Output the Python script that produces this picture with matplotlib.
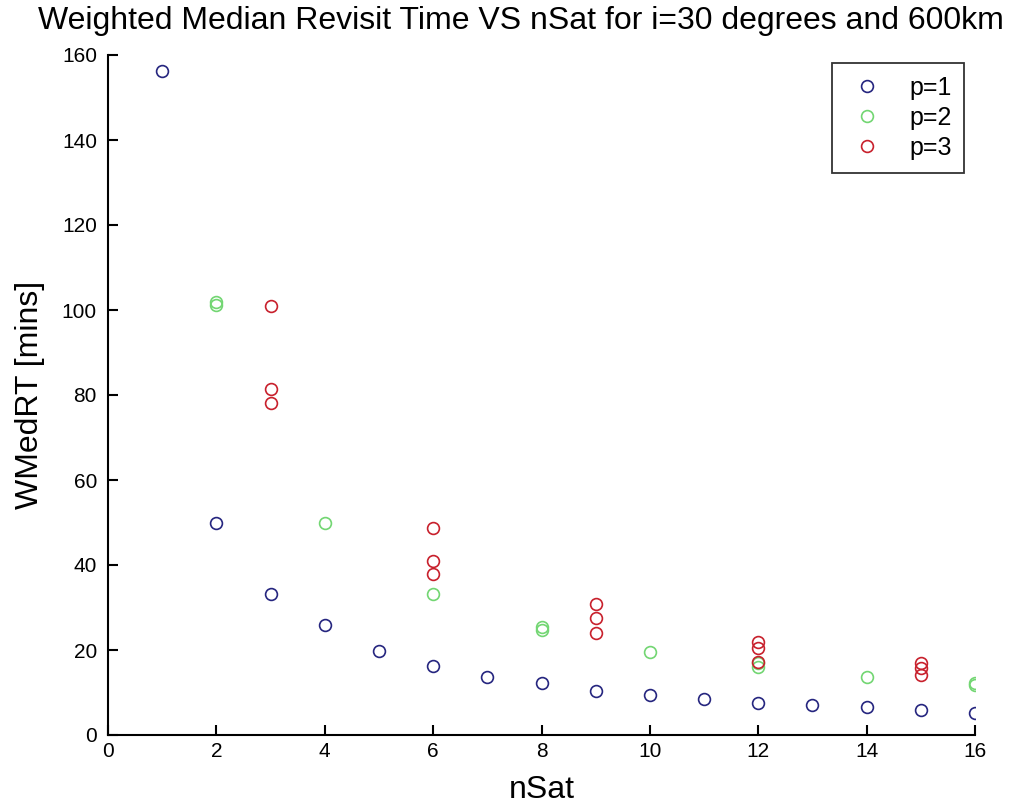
import matplotlib
matplotlib.use("Agg")
import matplotlib.pyplot as plt

# Data
p1_x = [1, 2, 3, 4, 5, 6, 7, 8, 9, 10, 11, 12, 13, 14, 15, 16]
p1_y = [156.2, 50.0, 33.2, 25.8, 19.8, 16.3, 13.6, 12.2, 10.4, 9.3, 8.4, 7.5, 7.1, 6.5, 6.0, 5.1]

p2_x = [2, 2, 4, 6, 8, 8, 10, 12, 12, 14, 16, 16]
p2_y = [101.2, 101.9, 50.0, 33.2, 24.8, 25.3, 19.6, 16.0, 17.0, 13.6, 11.7, 12.2]

p3_x = [3, 3, 3, 6, 6, 6, 9, 9, 9, 12, 12, 12, 15, 15, 15]
p3_y = [101.0, 81.3, 78.2, 48.6, 41.0, 37.9, 30.9, 27.5, 23.9, 21.8, 20.4, 17.2, 17.0, 15.7, 14.1]

labels = ["p=1", "p=2", "p=3"]

plt.rcParams['font.family'] = ['Liberation Sans', 'DejaVu Sans']

fig = plt.figure(figsize=(10.19, 8.09), dpi=100)
ax = fig.add_axes([108/1019, 74/809, 867/1019, 680/809])

ms = 8.5
mew = 1.2
ax.plot(p1_x, p1_y, 'o', mfc='none', mec='#25257f', ms=ms, mew=mew, label=labels[0])
ax.plot(p2_x, p2_y, 'o', mfc='none', mec='#72d672', ms=ms, mew=mew, label=labels[1])
ax.plot(p3_x, p3_y, 'o', mfc='none', mec='#c8202c', ms=ms, mew=mew, label=labels[2])

ax.set_xlim(0, 16)
ax.set_ylim(0, 160)
ax.set_xticks(range(0, 17, 2))
ax.set_yticks(range(0, 161, 20))
ax.spines['top'].set_visible(False)
ax.spines['right'].set_visible(False)
for s in ['left', 'bottom']:
    ax.spines[s].set_linewidth(1.5)
ax.tick_params(direction='in', length=7, width=1.5, labelsize=15)
ax.tick_params(axis='y', pad=8)
ax.tick_params(axis='x', pad=5)

ax.set_xlabel('nSat', fontsize=23, labelpad=10)
ax.set_ylabel('WMedRT [mins]', fontsize=23, labelpad=12)
fig.text(521/1019, 1 - 21/809, 'Weighted Median Revisit Time VS nSat for i=30 degrees and 600km',
         ha='center', va='center', fontsize=23)

leg = ax.legend(loc='upper right', fontsize=18, frameon=True, fancybox=False, edgecolor='black',
                handletextpad=0.8, borderpad=0.5, labelspacing=0.25, handlelength=1.8,
                borderaxespad=0)
leg.get_frame().set_linewidth(1.3)
leg.set_bbox_to_anchor((964/1019, 1 - 63/809), transform=fig.transFigure)

fig.savefig('out.png', dpi=100)
